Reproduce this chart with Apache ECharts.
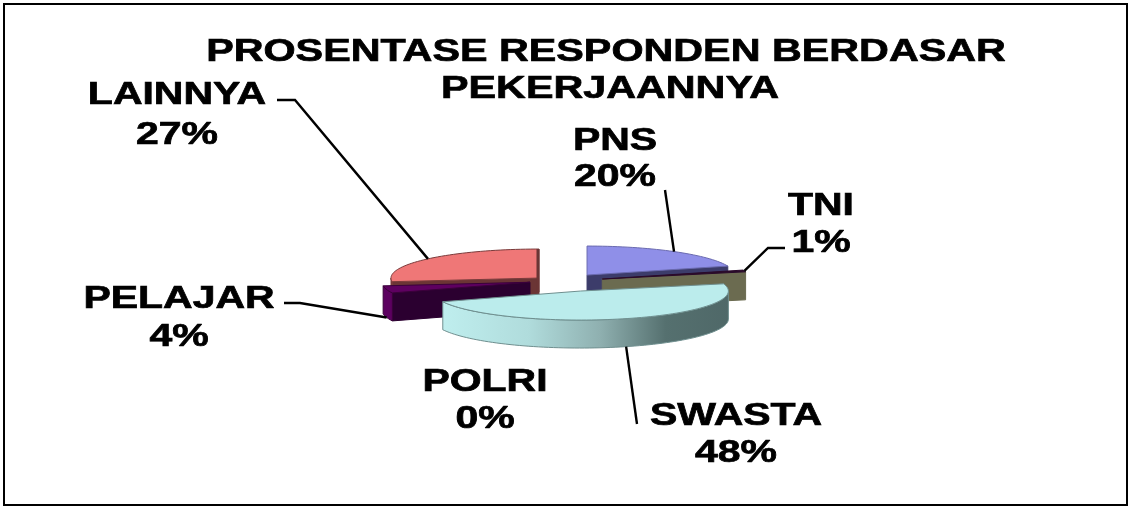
<!DOCTYPE html>
<html><head><meta charset="utf-8">
<style>html,body{margin:0;padding:0;background:#fff}#c{width:1129px;height:506px}</style>
<script src="https://cdn.jsdelivr.net/npm/echarts@6/dist/echarts.min.js"></script>
</head><body><div id="c"></div>
<script>
var titleLines = ['PROSENTASE RESPONDEN BERDASAR', 'PEKERJAANNYA'];
var categories = ['PNS', 'TNI', 'SWASTA', 'POLRI', 'PELAJAR', 'LAINNYA'];
var values = [20, 1, 48, 0, 4, 27];

// styling and layout only
var drawOrder = [5, 4, 0, 1, 2, 3];
var explode = [46, 44, 66, 0, 31, 28];
var topColor = ['#8f8fe8', '#2a0a2a', '#bbecec', '#bbecec', '#5e0060', '#ef7777'];
var faceColor = ['#3c3c6a', '#6b6b50', '#6a8a8a', '#6a8a8a', '#2b0030', '#6b3535'];
var wallColor = ['#3c3c6a', '#6b6b50', null, '#6a8a8a', '#5c0060', '#6b3535'];
var strokeColor = ['#6a6ab0', '#2a0a2a', '#6f8f8f', '#6f8f8f', '#3a003a', '#7b3c3c'];
var edgeWidth = [0, 0, 0, 0, 0, 3];
var labelPos = [[615,141,177],[821,206,243],[736,416,453],[485,382,419],[179,299,337],[177,95,135]];
var elbows = [[[665,190]],[[785,248],[768,248]],[[637,424]],null,[[284,303],[300,303]],[[277,100],[295,100]]];
var anchorDrop = [0, 0, 1, 0, 1, 0];

var CX = 560, CY = 281, RX = 148, RY = 29, DEPTH = 28, TILT = 0.16, STEP = 2;
var FONT = 'bold 32px "Liberation Sans", Arial, sans-serif';
var total = values.reduce(function (a, b) { return a + b; }, 0);

function rad(d) { return d * Math.PI / 180; }
function renderItem(params) {
  var i = drawOrder[params.dataIndex];
  var before = 0;
  for (var k = 0; k < i; k++) before += values[k];
  var a0 = before / total * 360, a1 = (before + values[i]) / total * 360, mid = (a0 + a1) / 2;
  var ax = CX + explode[i] * Math.sin(rad(mid));
  var ay = CY - explode[i] * TILT * Math.cos(rad(mid));
  function pt(a, drop) {
    return [ax + RX * Math.sin(rad(a)), ay - RY * Math.cos(rad(a)) + (drop ? DEPTH : 0)];
  }
  var children = [];
  if (a1 > a0) {
    function face(a) {
      children.push({ type: 'polygon', shape: { points: [[ax, ay], pt(a), pt(a, 1), [ax, ay + DEPTH]] },
        style: { fill: faceColor[i], stroke: faceColor[i], lineWidth: 1 } });
    }
    if (a0 > 180) face(a0);
    if (a1 < 180) face(a1);
    var w0 = Math.max(a0, 90), w1 = Math.min(a1, 270);
    if (w1 > w0) {
      var wall = [], a;
      for (a = w0; a < w1; a += STEP) wall.push(pt(a));
      wall.push(pt(w1)); wall.push(pt(w1, 1));
      for (a = w1; a > w0; a -= STEP) wall.push(pt(a, 1));
      wall.push(pt(w0, 1));
      var fill = wallColor[i] || { type: 'linear', x: 0, y: 0, x2: 1, y2: 0, colorStops: [
        { offset: 0, color: '#bfeeee' }, { offset: 0.3, color: '#b0dcdc' }, { offset: 0.55, color: '#8fb0b0' },
        { offset: 0.78, color: '#55706f' }, { offset: 1, color: '#4f6868' }] };
      children.push({ type: 'polygon', shape: { points: wall }, style: { fill: fill, stroke: strokeColor[i], lineWidth: 1 } });
    }
    var top = [[ax, ay]];
    for (var b = a0; b < a1; b += STEP) top.push(pt(b));
    top.push(pt(a1));
    children.push({ type: 'polygon', shape: { points: top }, style: { fill: topColor[i], stroke: strokeColor[i], lineWidth: 1 } });
    if (edgeWidth[i]) {
      var e = pt(a1);
      children.push({ type: 'polyline', shape: { points: [[e[0] - 1, e[1]], [ax - 1, ay + DEPTH / 2]] },
        style: { fill: null, stroke: faceColor[i], lineWidth: edgeWidth[i] } });
    }
  }
  if (elbows[i]) {
    children.push({ type: 'polyline', z2: 50, shape: { points: elbows[i].concat([pt(mid, anchorDrop[i])]) },
      style: { fill: null, stroke: '#000', lineWidth: 2.4 } });
  }
  [categories[i], values[i] + '%'].forEach(function (s, n) {
    children.push({ type: 'text', z2: 60, x: labelPos[i][0], y: labelPos[i][n + 1], scaleX: 1.28,
      style: { text: s, x: 0, y: 0, font: FONT, fill: '#000', stroke: '#000', lineWidth: 0.7, align: 'center', verticalAlign: 'middle' } });
  });
  return { type: 'group', children: children };
}

var chart = echarts.init(document.getElementById('c'), null, { renderer: 'canvas' });
chart.setOption({
  animation: false,
  backgroundColor: '#fff',
  graphic: [
    { type: 'rect', shape: { x: 4, y: 4, width: 1123, height: 501 }, style: { fill: null, stroke: '#000', lineWidth: 2 } },
    { type: 'text', x: 606, y: 52, scaleX: 1.29, style: { text: titleLines[0], font: FONT, fill: '#000', stroke: '#000', lineWidth: 0.7, align: 'center', verticalAlign: 'middle' } },
    { type: 'text', x: 610, y: 89, scaleX: 1.29, style: { text: titleLines[1], font: FONT, fill: '#000', stroke: '#000', lineWidth: 0.7, align: 'center', verticalAlign: 'middle' } }
  ],
  series: [{
    type: 'custom', coordinateSystem: 'none', renderItem: renderItem, clip: false,
    data: drawOrder.map(function (i) { return { name: categories[i], value: [values[i]] }; })
  }]
});
</script></body></html>
